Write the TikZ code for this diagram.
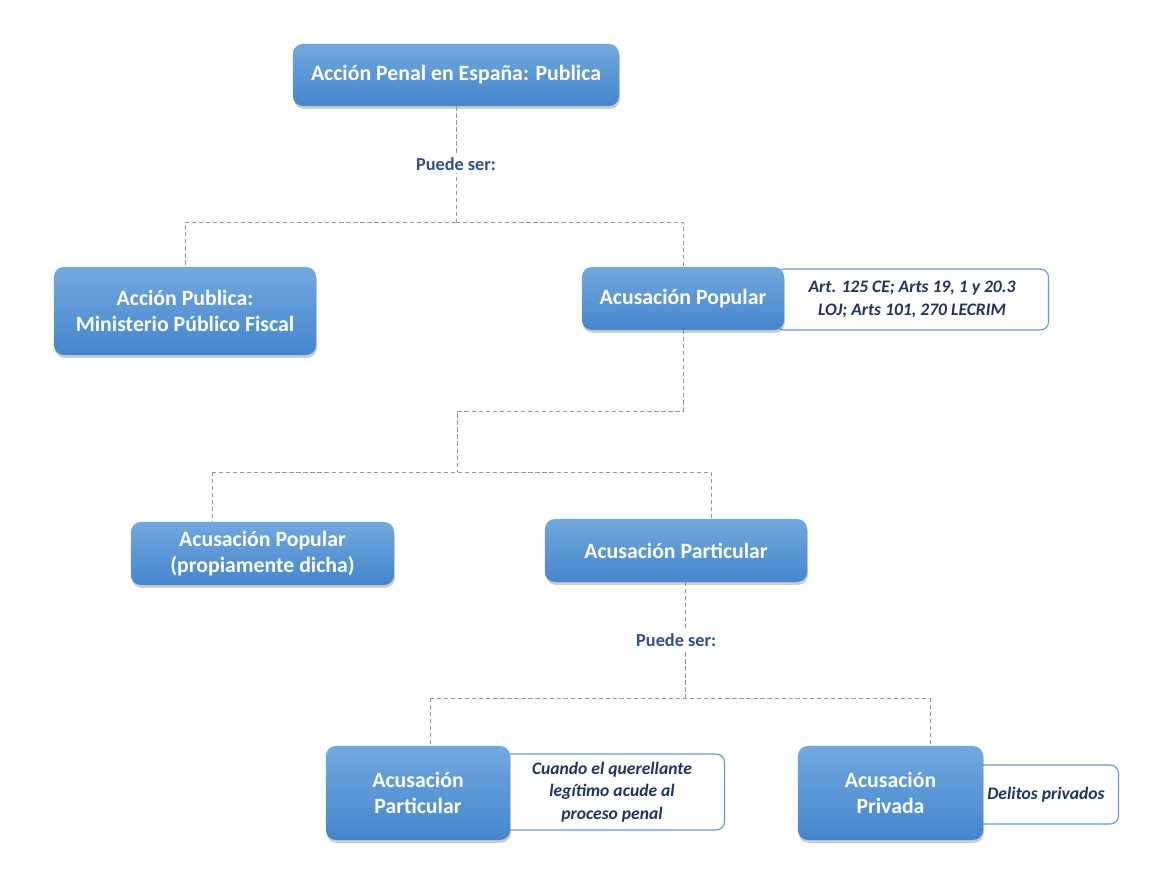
\documentclass[tikz,border=0pt]{standalone}
\usepackage{fontspec}
\setmainfont{Carlito}
\usetikzlibrary{shadows}

\definecolor{boxtop}{RGB}{114,168,222}
\definecolor{boxbot}{RGB}{68,134,205}
\definecolor{noteline}{RGB}{96,155,214}
\definecolor{notetext}{RGB}{32,52,96}
\definecolor{lbltext}{RGB}{46,80,146}
\definecolor{connline}{RGB}{150,150,150}

\begin{document}
\begin{tikzpicture}[x=0.025cm,y=-0.025cm,
   mainbox/.style={rectangle,rounded corners=7pt,top color=boxtop,
    bottom color=boxbot,draw=none,text=white,align=center,
    font=\fontsize{15.5}{19}\selectfont\bfseries,
    drop shadow={shadow xshift=0.6pt,shadow yshift=-2pt,opacity=0.4}},
   notebox/.style={rectangle,rounded corners=6pt,draw=noteline,
    line width=0.8pt,fill=white,text=notetext,align=center,
    font=\fontsize{12.5}{16}\selectfont\bfseries\itshape},
   conn/.style={draw=connline,line width=0.7pt,dash pattern=on 3pt off 2pt},
   lbl/.style={fill=white,text=lbltext,inner sep=2pt,
    font=\fontsize{13}{15}\selectfont\bfseries}
    ]
  \useasboundingbox[fill=white] (0,0) rectangle (1172,878);

  % -- joints
  \coordinate (j1) at (456,222);
  \coordinate (j2) at (457,411);
  \coordinate (j3) at (457,472);
  \coordinate (k1) at (212,472);
  \coordinate (k2) at (711,472);
  \coordinate (j4) at (685,698);
  \coordinate (m1) at (430,698);
  \coordinate (m2) at (930,698);

  % -- boxes
  \node[mainbox,minimum width=8.15cm,minimum height=1.55cm] at (456,75) (top) {Acción Penal en España: Publica};
  \node[mainbox,minimum width=6.55cm,minimum height=2.2cm] at (185,311) (accpub) {Acción Publica:\\Ministerio Público Fiscal};

  % -- connectors
  \draw[conn] (top.south -| j1) -- node[lbl] {Puede ser:} (j1);
  \draw[conn] (j1) -| (accpub.north);
  \draw[conn] (j1) -| (683,267);
  \draw[conn] (683,330) |- (j2) -- (j3);
  \draw[conn] (k1) -- (k2);
  \draw[conn] (k1) -- (212,522);
  \draw[conn] (k2) -- (711,519);
  \draw[conn] (685,582) -- node[lbl,xshift=-0.22cm] {Puede ser:} (j4);
  \draw[conn] (m1) -- (m2);
  \draw[conn] (m1) -- (430,746);
  \draw[conn] (m2) -- (930,746);

  % -- notes
  \node[notebox,minimum width=6.825cm,minimum height=1.525cm] at (912,299.5) (n1) {Art. 125 CE; Arts 19, 1 y 20.3\\LOJ; Arts 101, 270 LECRIM};
  \node[notebox,minimum width=5.625cm,minimum height=1.9cm] at (612,792) (n2) {Cuando el querellante\\legítimo acude al\\proceso penal};
  \node[notebox,minimum width=3.625cm,minimum height=1.475cm] at (1046,794.5) (n3) {Delitos privados};

  \node[mainbox,minimum width=5.05cm,minimum height=1.575cm] at (683,298.5) (acupop) {Acusación Popular};
  \node[mainbox,minimum width=6.575cm,minimum height=1.575cm] at (262.5,553.5) (propia) {Acusación Popular\\(propiamente dicha)};
  \node[mainbox,minimum width=6.55cm,minimum height=1.575cm] at (676,550.5) (partmid) {Acusación Particular};
  \node[mainbox,minimum width=4.6cm,minimum height=2.35cm] at (418,793) (partbot) {Acusación\\Particular};
  \node[mainbox,minimum width=4.625cm,minimum height=2.35cm] at (890.5,793) (privada) {Acusación\\Privada};
\end{tikzpicture}
\end{document}
